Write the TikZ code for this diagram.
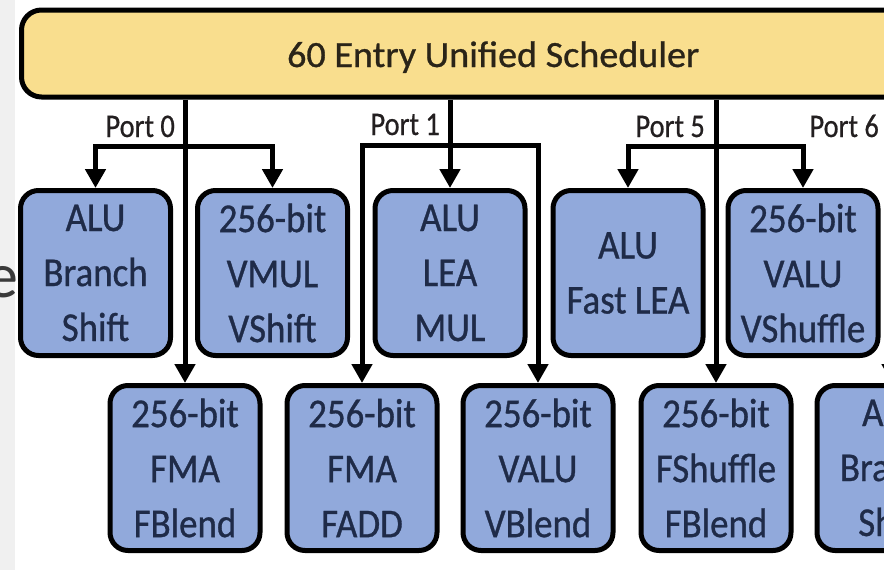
\documentclass[tikz,border=0pt]{standalone}
\usepackage{fontspec}
\setmainfont{Carlito}
\newfontfamily\schedfont[FakeStretch=1.03,FakeBold=0.8]{Carlito}
\newfontfamily\boxfont[FakeStretch=0.9,FakeBold=0.8]{Carlito}
\newfontfamily\portfont[FakeStretch=0.86,FakeBold=0.6]{Carlito}
\usetikzlibrary{arrows.meta}
\definecolor{schedfill}{HTML}{F9DE8E}
\definecolor{unitfill}{HTML}{91A9DB}
\definecolor{unittext}{HTML}{1F2B48}
\definecolor{schedtext}{HTML}{2A2418}
\definecolor{striptone}{HTML}{F0F0F0}
\definecolor{slidetext}{HTML}{3A3A3A}
\definecolor{porttext}{HTML}{231F20}
\begin{document}
\begin{tikzpicture}[x=1pt,y=-1pt,
  unitbox/.style={draw=black, line width=5pt, fill=unitfill, rounded corners=18pt,
    minimum width=150pt, minimum height=165pt, inner sep=0pt, align=center,
    text=unittext, font=\boxfont\fontsize{41}{55}\selectfont},
  schedbox/.style={draw=black, line width=5pt, fill=schedfill, rounded corners=20pt,
    minimum width=943.5pt, minimum height=87pt, inner sep=0pt,
    text height=27pt, text depth=0pt, text=schedtext,
    font=\schedfont\fontsize{37}{37}\selectfont},
  conn/.style={line width=5pt, draw=black, line join=miter},
  arr/.style={conn, -{Triangle[width=20pt,length=19pt]}},
  portlabel/.style={anchor=base east, inner sep=0pt, text=porttext,
    font=\portfont\fontsize{33}{33}\selectfont}
]
\useasboundingbox (0,0) rectangle (884,570);
\clip (0,0) rectangle (884,570);
\fill[white] (0,0) rectangle (884,570);
\fill[striptone] (0,0) rectangle (15,570);

\node[anchor=base east, inner sep=0pt, text=slidetext,
  font=\fontsize{64}{64}\selectfont] (slidee) at (19,297) {e};

% scheduler
\node[schedbox] (sched) at (493.25,53.5) {60 Entry Unified Scheduler};

% execution units, first row
\node[unitbox] (u0a) at (95.5,273) {ALU\\Branch\\Shift};
\node[unitbox] (u0b) at (272.5,273) {256-bit\\VMUL\\VShift};
\node[unitbox] (u1a) at (450,273) {ALU\\LEA\\MUL};
\node[unitbox] (u5a) at (628,273) {ALU\\Fast LEA};
\node[unitbox] (u6a) at (803,273) {256-bit\\VALU\\VShuffle};
% second row
\node[unitbox] (u0c) at (185,468) {256-bit\\FMA\\FBlend};
\node[unitbox] (u1b) at (362,468) {256-bit\\FMA\\FADD};
\node[unitbox] (u1c) at (538,468) {256-bit\\VALU\\VBlend};
\node[unitbox] (u5b) at (716,468) {256-bit\\FShuffle\\FBlend};
\node[unitbox] (u6b) at (892,468) {ALU\\Branch\\Shift};

% port 0
\coordinate (p0) at (u0c.north |- sched.south);
\coordinate (b0) at (u0c.north |- 0,146);
\draw[arr] (p0) -- (u0c.north);
\draw[arr] (b0) -| (u0a.north);
\draw[arr] (b0) -| (u0b.north);
% port 1
\coordinate (p1) at (u1a.north |- sched.south);
\coordinate (b1) at (u1a.north |- 0,145);
\draw[arr] (p1) -- (u1a.north);
\draw[arr] (b1) -| (u1b.north);
\draw[arr] (b1) -| (u1c.north);
% port 5
\coordinate (p5) at (u5b.north |- sched.south);
\coordinate (b5) at (u5b.north |- 0,146);
\draw[arr] (p5) -- (u5b.north);
\draw[arr] (b5) -| (u5a.north);
\draw[arr] (b5) -| (u6a.north);
% port 6
\coordinate (p6) at (u6b.north |- sched.south);
\draw[arr] (p6) -- (u6b.north);

% port labels
\node[portlabel] (l0) at (175,137) {Port 0};
\node[portlabel] (l1) at (440,135) {Port 1};
\node[portlabel] (l5) at (705,137) {Port 5};
\node[portlabel] (l6) at (879,137) {Port 6};
\end{tikzpicture}
\end{document}
